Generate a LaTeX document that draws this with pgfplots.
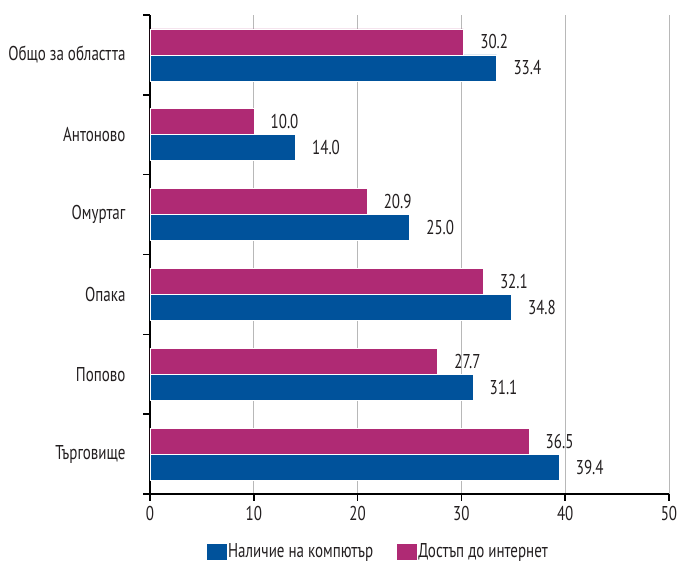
\documentclass[border=0pt]{standalone}
\usepackage{pgfplots}
\pgfplotsset{compat=1.18}
\usepackage{fontspec}
\setmainfont{PT Sans}
\definecolor{cblue}{HTML}{00529B}
\definecolor{cmag}{HTML}{AF2A74}
\definecolor{txt}{HTML}{231F20}
\begin{document}
\begin{tikzpicture}
\begin{axis}[
  /pgf/number format/assume math mode=true,
  font=\fontsize{15}{18}\selectfont,
  every tick label/.append style={text=txt, xscale=0.75},
  scale only axis, width=389.25pt, height=359.25pt,
  xbar, bar width=19.5pt,
  xmin=0, xmax=50, ymin=-0.5, ymax=5.5,
  axis x line*=bottom, axis y line*=left,
  axis line style={black, line width=1.3pt, -},
  xtick={0,10,...,50}, tick align=outside,
  major tick length=5pt,
  tick style={black, line width=1.1pt},
  xticklabel style={yshift=-1pt},
  xmajorgrids, grid style={black!28, line width=0.7pt},
  ytick={-0.5,0.5,...,5.5}, yticklabels={},
  extra y ticks={0,1,2,3,4,5},
  extra y tick labels={Търговище,Попово,Опака,Омуртаг,Антоново,Общо за областта},
  extra y tick style={major tick length=0pt, yticklabel style={xshift=-21pt}},
  nodes near coords,
  nodes near coords style={text=txt, anchor=west, xshift=10pt, xscale=0.75,
    /pgf/number format/.cd, fixed, fixed zerofill, precision=1},
  legend style={at={(0.44,-0.1)}, anchor=north, draw=none, fill=none,
    legend columns=2, text=txt, inner ysep=0pt,
    /tikz/every even column/.append style={column sep=17pt},
    nodes={inner xsep=1.5pt, inner ysep=1pt, xscale=0.75}},
  legend image code/.code={\fill[#1,draw=none] (0pt,-6pt) rectangle (14.5pt,6pt);},
]
\addplot[fill=cblue, draw=white, line width=0.4pt, bar shift=-9.75pt] coordinates {
  (39.4,0) (31.1,1) (34.8,2) (25.0,3) (14.0,4) (33.4,5)};
\addplot[fill=cmag, draw=white, line width=0.4pt, bar shift=9.75pt] coordinates {
  (36.5,0) (27.7,1) (32.1,2) (20.9,3) (10.0,4) (30.2,5)};
\legend{Наличие на компютър, Достъп до интернет}
\end{axis}
\pgfresetboundingbox
\path ([xshift=-112.5pt,yshift=11.25pt]current axis.north west) rectangle ([xshift=6pt,yshift=-54pt]current axis.south east);
\end{tikzpicture}
\end{document}
